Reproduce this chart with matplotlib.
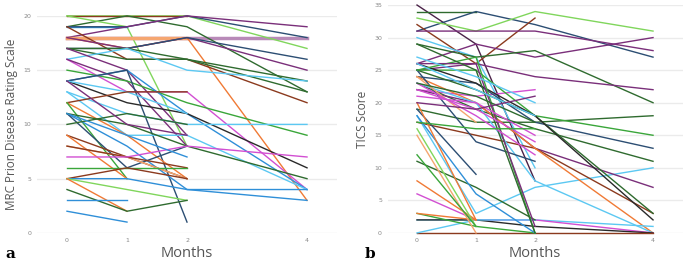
import matplotlib
matplotlib.use("Agg")
import matplotlib.pyplot as plt
import numpy as np

nan = np.nan

# line colours
BR = '#8b3a1e'
DG = '#2f6b2f'
G = '#3aa63a'
LG = '#80d65c'
B = '#2f8fd8'
LB = '#5cc8f2'
NV = '#2c4e73'
PU = '#7a2f7a'
PK = '#d24fd2'
OR = '#f07a35'
LO = '#f5a670'
BK = '#2a2a2a'
MV = '#b88ab8'

months = [0, 1, 2, 4]

# panel a: MRC scale per patient (months 0, 1, 2, 4)
mrc_values = [
    [18, 18, 18, 18], [20, 20, 20, 17], [20, 20, 20, nan], [19, 20, 19, 13],
    [20, 19, 8, nan], [19, 19, nan, nan], [19, 19, 20, 18], [18, 19, 20, 19],
    [18, 18, 18, nan], [18, 17, 18, 3], [19, 16, 16, 12], [18, 17, 18, 15],
    [17, 17, 18, 16], [17, 16, 16, 14], [17, 17, 16, 13], [16, 17, 15, 14],
    [16, 13, 13, 4], [16, 14, 8, nan], [17, 15, 9, nan], [15, 14, 12, 9],
    [14, 15, 11, 4], [14, 15, 1, nan], [14, 12, 11, 6], [14, 13, 11, nan],
    [13, 11, 10, 10], [13, 9, 9, 4], [12, 13, 13, nan], [12, 9, 5, nan],
    [12, 5, nan, nan], [11, 8, 4, 3], [11, 6, 8, nan], [10, 11, 10, nan],
    [11, 10, 8, 5], [9, 7, 5, nan], [9, 5, nan, nan], [8, 7, 5, nan],
    [8, 7, 6, nan], [7, 7, 8, 7], [6, 6, 6, nan], [5, 6, 5, nan],
    [5, 5, 4, 4], [5, nan, 3, nan], [5, 2, nan, nan], [4, 2, 3, nan],
    [3, 3, nan, nan], [2, 1, nan, nan], [14, 10, 9, nan], [11, 9, 7, nan],
]
mrc_colors = [
    MV, LG, BR, DG,
    LG, B, NV, PU,
    LO, OR, BR, PU,
    NV, DG, DG, LB,
    PK, PU, PU, G,
    B, NV, BK, LB,
    LB, LB, BR, OR,
    G, B, NV, DG,
    DG, BR, OR, LO,
    BR, PK, G, BR,
    B, LG, OR, DG,
    B, B, PU, B,
]

# panel b: TICS score per patient (months 0, 1, 2, 4)
tics_values = [
    [35, 29, 8, nan], [34, 34, nan, nan], [31, 34, 32, 27], [33, 31, 34, 31],
    [32, 26, 33, nan], [31, 31, 31, 28], [26, 29, 27, 30], [30, 27, 10, nan],
    [29, 27, 28, 20], [25, 26, 24, 22], [22, 21, 22, nan], [19, 17, 17, 18],
    [25, 25, 18, 15], [24, 23, 17, 13], [23, 19, 16, 11], [18, 3, 7, 10],
    [22, 20, 13, 7], [17, 15, 13, 3], [25, 22, 18, 3], [26, 23, 18, 2],
    [24, 20, 13, 0], [23, 20, 8, 0], [2, 2, 2, 1], [6, 2, 2, 0],
    [2, 2, 1, 0], [0, 0, 0, 0], [0, 2, 2, nan], [25, 14, 11, nan],
    [19, 9, nan, nan], [11, 7, 2, nan], [8, 2, nan, nan], [3, 1, 0, nan],
    [3, 2, nan, nan], [18, 6, 0, nan], [25, 27, 0, nan], [26, 26, 1, nan],
    [29, 25, 0, nan], [16, 1, nan, nan], [15, 0, nan, nan], [12, 1, nan, nan],
    [20, 2, nan, nan], [24, 17, nan, nan], [22, 19, 14, nan], [23, 18, 12, nan],
    [21, 20, 15, nan], [27, 24, 20, nan], [26, 22, 18, nan], [23, 21, 17, nan],
    [20, 19, 21, nan], [17, 16, 16, nan],
]
tics_colors = [
    '#4a2248', DG, NV, LG,
    BR, PU, PU, LB,
    DG, PU, PK, DG,
    G, NV, DG, LB,
    PU, BR, DG, BK,
    OR, LB, LB, PK,
    BK, BR, LB, NV,
    NV, DG, OR, G,
    OR, B, G, PU,
    DG, LG, LO, G,
    OR, LO, PK, PK,
    PK, LB, LB, DG,
    PU, G,
]


def draw_panel(ax, values, colors, ymax, step, ylabel):
    for vals, c in zip(values, colors):
        vals = np.array(vals, dtype=float)
        ok = ~np.isnan(vals)
        x = np.array(months)[ok]
        thick = c == MV or (c == LO and vals[0] == 18)
        ax.plot(x, vals[ok], color=c, lw=2.5 if thick else 1.0, clip_on=False, zorder=2)
    ax.set_xlim(-0.5, 4.5)
    ax.set_ylim(0, ymax)
    ax.set_xticks([0, 1, 2, 4])
    ax.set_yticks(np.arange(0, ymax + 1, step))
    ax.grid(axis='y', color='#ebebeb', lw=1, zorder=0)
    ax.set_axisbelow(True)
    for s in ax.spines.values():
        s.set_visible(False)
    ax.tick_params(length=0, labelsize=4.5, labelcolor='#888888', pad=4)
    ax.set_ylabel(ylabel, fontsize=8.5, color='#555555', family='Open Sans', labelpad=4)
    ax.set_xlabel('Months', fontsize=10.5, color='#555555', family='Open Sans', labelpad=2)


fig = plt.figure(figsize=(6.85, 2.65), dpi=100)
ax1 = fig.add_axes([0.054, 0.121, 0.438, 0.819])
ax2 = fig.add_axes([0.5657, 0.121, 0.4307, 0.860])

draw_panel(ax1, mrc_values, mrc_colors, 20, 5, 'MRC Prion Disease Rating Scale')
draw_panel(ax2, tics_values, tics_colors, 35, 5, 'TICS Score')

fig.text(0.008, 0.025, 'a', fontsize=11, fontweight='bold', family='DejaVu Serif')
fig.text(0.533, 0.025, 'b', fontsize=11, fontweight='bold', family='DejaVu Serif')

fig.savefig('out.png', dpi=100)
